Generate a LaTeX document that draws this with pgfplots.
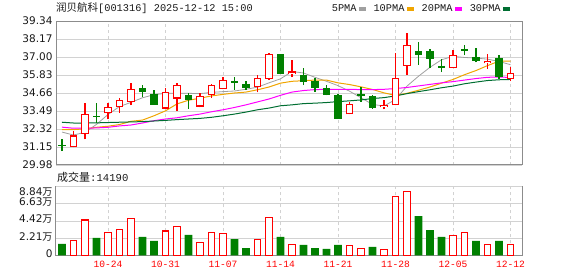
\documentclass[border=0pt]{standalone}
\usepackage{fontspec}
\setmainfont{DejaVu Sans}
\newfontfamily\cjk{Noto Sans CJK SC}
\newfontfamily\mono{Liberation Mono}
\newfontfamily\dv{DejaVu Sans}
\usepackage{pgfplots}
\usepackage{pgfplotstable}
\pgfplotsset{compat=1.18}
\definecolor{cred}{RGB}{255,0,0}
\definecolor{cgreen}{RGB}{0,128,0}
\definecolor{ma5c}{RGB}{160,160,160}
\definecolor{ma10c}{RGB}{240,165,0}
\definecolor{ma20c}{RGB}{255,0,255}
\definecolor{ma30c}{RGB}{0,110,50}
\definecolor{gridc}{RGB}{210,210,210}
\definecolor{framec}{RGB}{140,140,140}
\definecolor{txtc}{RGB}{25,25,25}

\pgfplotsset{
  kbase/.style={
    scale only axis, width=466pt, xmin=-0.52, xmax=40, enlargelimits=false,
    axis line style={framec, line width=1pt},
    major tick length=0pt, tick style={draw=none},
    xtick={4,9,14,19,24,29,34,39},
    xmajorgrids, ymajorgrids,
    x grid style={gridc, dash pattern=on 3pt off 3pt, line width=0.9pt},
    y grid style={gridc, line width=0.9pt},
    yticklabel style={font=\dv\fontsize{10.5}{12}\selectfont, text=txtc},
  },
  candle/.style={forget plot, draw=none, mark=none,
    error bars/.cd, y dir=plus, y explicit, error mark=none,
    error bar style={#1}},
}

% rising candles (close > open): index, open, high, low, close
\pgfplotstableread{
i o h l c
1 31.15 32.18 31.12 31.90
2 32.01 34.00 31.64 33.27
4 33.33 34.04 32.95 33.78
5 33.72 34.36 33.38 34.23
6 34.10 35.34 33.87 34.94
9 33.65 34.96 33.65 34.75
10 34.30 35.28 33.50 35.19
12 33.78 34.68 33.72 34.49
13 34.51 35.26 34.36 35.19
14 34.94 35.73 34.90 35.52
17 35.04 35.86 34.70 35.64
18 35.58 37.27 35.52 37.18
20 35.91 36.82 35.69 36.06
25 33.27 34.10 33.27 33.93
28 33.72 34.19 33.59 33.91
29 33.85 37.27 33.85 35.64
30 36.41 38.58 35.86 37.76
34 36.29 37.46 36.29 37.12
37 36.59 37.18 36.24 36.76
39 35.58 36.35 35.43 35.97
}\kup

% falling candles (close <= open)
\pgfplotstableread{
i o h l c
0 31.29 31.66 30.89 31.21
3 33.18 34.04 32.71 33.12
7 34.96 35.17 34.40 34.75
8 34.62 34.87 33.89 33.89
11 34.51 34.68 33.65 34.21
15 35.41 35.67 34.87 35.30
16 35.26 35.45 34.85 34.96
19 37.18 37.18 35.92 35.92
21 35.84 36.29 35.17 35.39
22 35.41 35.64 34.75 34.96
23 34.96 35.15 34.51 34.51
24 34.51 34.57 32.99 32.99
26 34.58 35.04 34.10 34.48
27 34.45 34.53 33.63 33.70
31 37.40 37.98 36.50 37.16
32 37.40 37.53 36.29 36.84
33 36.44 36.89 36.01 36.26
35 37.53 37.78 37.12 37.36
36 36.99 37.59 36.65 36.71
38 36.95 37.12 35.54 35.69
}\kdown

% volume (10k shares), red = close above previous close
\pgfplotstableread{
i v
1 1.85
2 4.55
4 2.96
5 3.35
6 4.76
9 3.13
10 3.73
12 1.67
13 2.96
14 2.83
17 2.06
18 4.89
20 1.42
25 1.29
26 0.90
28 0.77
29 7.60
30 8.24
34 2.58
35 2.96
37 1.42
39 1.419
}\vup

\pgfplotstableread{
i v
0 1.46
3 2.23
7 2.36
8 1.85
11 2.62
15 2.10
16 0.94
19 2.36
21 1.33
22 0.94
23 0.82
24 1.33
27 1.07
31 5.06
32 3.26
33 2.36
36 1.85
38 1.85
}\vdown

\pgfplotstableread{
i ma5 ma10 ma20 ma30
0 32.12 32.28 32.44 32.76
1 31.93 32.28 32.37 32.71
2 32.10 32.33 32.37 32.71
3 32.62 32.43 32.39 32.72
4 33.26 32.50 32.43 32.74
5 33.78 32.61 32.52 32.76
6 34.05 32.82 32.58 32.78
7 34.35 32.90 32.71 32.80
8 34.55 33.18 32.86 32.84
9 34.64 33.50 32.97 32.88
10 34.64 33.95 33.05 32.93
11 34.64 34.19 33.18 32.97
12 34.62 34.32 33.29 33.01
13 34.70 34.47 33.44 33.08
14 34.75 34.57 33.57 33.18
15 34.79 34.66 33.72 33.29
16 34.90 34.72 33.89 33.42
17 35.04 34.87 34.08 33.57
18 35.32 35.05 34.27 33.68
19 35.58 35.30 34.51 33.83
20 36.06 35.42 34.72 33.89
21 35.96 35.46 34.82 33.97
22 35.68 35.50 34.88 34.00
23 35.42 35.50 34.90 34.04
24 35.14 35.32 34.90 34.10
25 34.78 35.21 34.90 34.15
26 34.35 35.06 34.88 34.21
27 33.92 34.89 34.88 34.30
28 33.81 34.67 34.90 34.36
29 34.24 34.50 34.95 34.47
30 35.11 34.64 35.02 34.62
31 35.75 34.84 35.12 34.75
32 36.33 35.05 35.22 34.87
33 36.82 35.30 35.32 35.00
34 37.04 35.54 35.40 35.11
35 36.97 35.85 35.50 35.26
36 36.93 36.12 35.60 35.37
37 36.86 36.44 35.68 35.47
38 36.71 36.73 35.70 35.52
39 36.50 36.73 35.67 35.54
}\madata

\begin{document}
\begin{tikzpicture}[x=1pt,y=1pt]
\useasboundingbox (0,0) rectangle (578,276);

% title
\node[anchor=west, inner sep=0pt, text=txtc] at (56,268)
  {{\cjk\fontsize{10.5}{12}\selectfont 润贝航科}{\mono\fontsize{10.3}{12}\selectfont [001316] 2025-12-12 15:00}};
\node[anchor=west, inner sep=0pt, text=txtc] at (57,99)
  {{\cjk\fontsize{11}{12}\selectfont 成交量}{\mono\fontsize{10.6}{12}\selectfont :14190}};

% price panel
\begin{axis}[kbase, at={(56pt,111pt)}, anchor=south west, height=144pt,
  ymin=29.98, ymax=39.34,
  ytick={29.98,31.15,32.32,33.49,34.66,35.83,37.00,38.17,39.34},
  yticklabels={29.98,31.15,32.32,33.49,34.66,35.83,37.00,38.17,39.34},
  xticklabels={,,,,,,,},
  legend columns=4, legend plot pos=right,
  legend style={at={(axis description cs:0.9742,1.0833)}, anchor=east,
    draw=none, fill=none, inner sep=0pt,
    font=\mono\fontsize{10.3}{12}\selectfont,
    nodes={inner sep=0.6pt, text=txtc},
    /tikz/column sep=1.5pt,
    /tikz/every even column/.append style={column sep=7.5pt}},
  legend image code/.code={\fill[#1] (0pt,-1.8pt) rectangle (6pt,1.8pt);},
]
\addplot[ma5c, line width=0.8pt, mark=none] table[x=i,y=ma5]{\madata};
\addlegendentry{5PMA}
\addplot[ma10c, line width=1pt, mark=none] table[x=i,y=ma10]{\madata};
\addlegendentry{10PMA}
\addplot[ma20c, line width=1pt, mark=none] table[x=i,y=ma20]{\madata};
\addlegendentry{20PMA}
\addplot[ma30c, line width=1pt, mark=none] table[x=i,y=ma30]{\madata};
\addlegendentry{30PMA}

% wicks
\addplot[candle={draw=cgreen, line width=1.2pt}]
  table[x=i, y=l, y error plus expr=\thisrow{h}-\thisrow{l}]{\kdown};
\addplot[candle={draw=cred, line width=1.2pt}]
  table[x=i, y=l, y error plus expr=\thisrow{h}-\thisrow{l}]{\kup};
% green bodies
\addplot[candle={draw=cgreen, line width=7.6pt}]
  table[x=i, y=o, y error plus expr=\thisrow{c}-\thisrow{o}]{\kdown};
% red bodies (hollow)
\addplot[candle={draw=cred, line width=7.6pt}]
  table[x=i, y=o, y error plus expr=\thisrow{c}-\thisrow{o}]{\kup};
\addplot[candle={draw=white, line width=5.4pt, shorten <=1.1pt, shorten >=1.1pt}]
  table[x=i, y=o, y error plus expr=\thisrow{c}-\thisrow{o}]{\kup};
\end{axis}

% volume panel
\begin{axis}[kbase, at={(56pt,20.7pt)}, anchor=south west, height=68.6pt,
  ymin=0, ymax=8.84,
  ytick={0,2.21,4.42,6.63},
  yticklabels={0,{2.21{\cjk\fontsize{10}{12}\selectfont 万}},{4.42{\cjk\fontsize{10}{12}\selectfont 万}},{6.63{\cjk\fontsize{10}{12}\selectfont 万}}},
  yticklabel style={yshift=1.5pt},
  extra y ticks={8.84},
  extra y tick labels={{8.84{\cjk\fontsize{10}{12}\selectfont 万}}},
  extra y tick style={yticklabel style={yshift=-7pt}},
  xticklabels={10-24,10-31,11-07,11-14,11-21,11-28,12-05,12-12},
  xticklabel style={font=\mono\fontsize{9.6}{10}\selectfont, text=cred, yshift=-2pt},
]
\addplot[ybar, bar width=7.8pt, bar shift=0pt, fill=cgreen, draw=none]
  table[x=i, y=v]{\vdown};
\addplot[ybar, bar width=6.6pt, bar shift=0pt, fill=white, draw=cred, line width=1.1pt]
  table[x=i, y=v]{\vup};
\end{axis}
\end{tikzpicture}
\end{document}
